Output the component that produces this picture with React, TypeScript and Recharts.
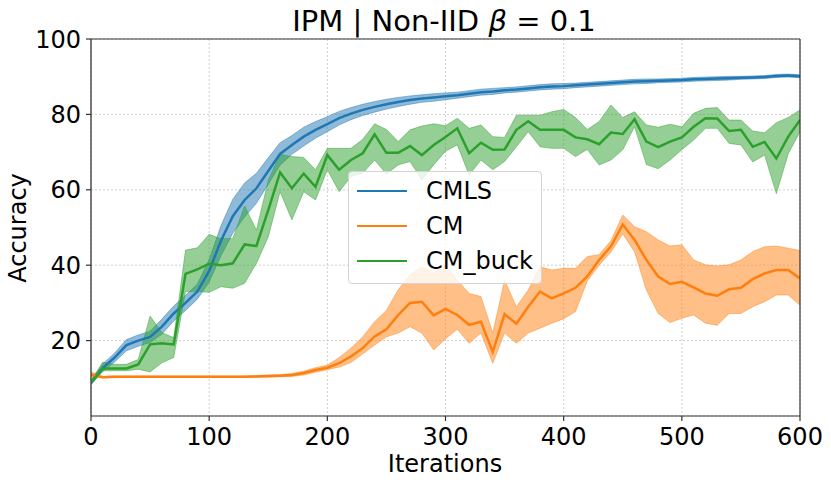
import React from 'react';
import { ComposedChart, Line, Area, XAxis, YAxis, CartesianGrid, ReferenceLine } from 'recharts';

const iterations = [0, 10, 20, 30, 40, 50, 60, 70, 80, 90, 100, 110, 120, 130, 140, 150, 160, 170, 180, 190, 200, 210, 220, 230, 240, 250, 260, 270, 280, 290, 300, 310, 320, 330, 340, 350, 360, 370, 380, 390, 400, 410, 420, 430, 440, 450, 460, 470, 480, 490, 500, 510, 520, 530, 540, 550, 560, 570, 580, 590, 600];

const cmlsMean = [8.8, 12.8, 15.5, 18.8, 20, 21, 23.7, 27.2, 30, 33, 38.5, 46.5, 53, 57.3, 60.4, 65, 69.5, 71.9, 74.1, 75.9, 77.4, 79, 80.2, 81.2, 82, 82.7, 83.3, 83.8, 84.2, 84.5, 84.8, 85.1, 85.5, 85.9, 86.1, 86.4, 86.6, 86.9, 87.2, 87.4, 87.5, 87.7, 87.9, 88.1, 88.3, 88.5, 88.7, 88.8, 88.9, 89, 89.1, 89.3, 89.4, 89.5, 89.6, 89.7, 89.8, 89.9, 90.2, 90.3, 90.1];
const cmlsLow = [8.3, 11.8, 14.3, 17.3, 18.5, 19.5, 21.7, 25.2, 28, 31, 35.5, 42.5, 48.5, 52.8, 56.4, 61.5, 66.5, 69.4, 71.6, 73.7, 75.4, 77.2, 78.6, 79.7, 80.6, 81.4, 82.1, 82.7, 83.2, 83.5, 83.9, 84.3, 84.7, 85.1, 85.3, 85.7, 85.9, 86.2, 86.5, 86.7, 86.8, 87.1, 87.3, 87.5, 87.7, 87.9, 88.1, 88.2, 88.4, 88.5, 88.6, 88.8, 88.9, 89, 89.1, 89.3, 89.4, 89.5, 89.8, 89.9, 89.7];
const cmlsHigh = [9.3, 13.8, 16.7, 20.3, 21.5, 22.5, 25.7, 29.2, 32, 35, 41.5, 50.5, 57.5, 61.8, 64.4, 68.5, 72.5, 74.4, 76.6, 78.1, 79.4, 80.8, 81.8, 82.7, 83.4, 84, 84.5, 84.9, 85.2, 85.5, 85.7, 85.9, 86.3, 86.7, 86.9, 87.1, 87.3, 87.6, 87.9, 88.1, 88.2, 88.3, 88.5, 88.7, 88.9, 89.1, 89.3, 89.4, 89.4, 89.5, 89.6, 89.8, 89.9, 90, 90.1, 90.1, 90.2, 90.3, 90.6, 90.7, 90.5];

const cmMean = [11, 10.3, 10.4, 10.4, 10.4, 10.4, 10.4, 10.4, 10.4, 10.4, 10.4, 10.4, 10.4, 10.4, 10.5, 10.6, 10.7, 10.9, 11.4, 12.2, 12.8, 14, 15.8, 18, 21.1, 23, 26.8, 30, 30.3, 26.7, 28.4, 26.8, 24.2, 25, 17, 27, 24.5, 29, 33, 31.2, 32.5, 34, 37, 41.4, 45, 50.8, 46.7, 41.4, 37, 35, 35.6, 34.1, 32.5, 31.9, 33.6, 34, 36.3, 37.8, 38.7, 38.7, 36.5];
const cmLow = [10.3, 10.1, 10.2, 10.2, 10.2, 10.2, 10.2, 10.2, 10.2, 10.2, 10.2, 10.2, 10.2, 10.2, 10.3, 10.3, 10.4, 10.5, 10.9, 11.6, 12.3, 13, 14.2, 16.5, 18.8, 21, 22, 23.7, 22, 17.5, 20.5, 23, 19.3, 22, 14, 22, 19.3, 22, 23.3, 24.6, 25.8, 27.7, 35.8, 40, 43.5, 48.3, 43.6, 33.4, 27.2, 24.8, 25.9, 26.8, 24.6, 24.1, 27.2, 27.2, 29, 30.3, 32.1, 32.1, 29.4];
const cmHigh = [11.7, 10.5, 10.6, 10.6, 10.6, 10.6, 10.6, 10.6, 10.6, 10.6, 10.6, 10.6, 10.6, 10.6, 10.7, 10.9, 11, 11.3, 11.9, 12.8, 13.5, 15.5, 18, 21, 25, 28, 33.5, 37.5, 39.5, 38, 40, 36, 32.5, 31.7, 22, 36, 29, 33.4, 39.6, 38.7, 39.2, 39.2, 42.3, 42.8, 46.5, 53.3, 50.2, 48.9, 46.7, 45.1, 45.4, 41.4, 40.1, 39.8, 40.1, 41.4, 43.6, 44.9, 45.1, 44.5, 43.9];

const buckMean = [8.8, 12.6, 12.6, 12.6, 13.7, 19, 19.3, 19, 37.7, 38.9, 40.4, 40, 40.5, 45.5, 45.1, 54.6, 64.6, 60.4, 64.3, 60.8, 69.2, 65.3, 67.9, 69.7, 74.7, 69.8, 69.8, 71.6, 69.2, 71.9, 74, 76.3, 69.7, 72.5, 70.6, 70.7, 75.9, 78.2, 75.9, 75.9, 75.9, 73.9, 73.4, 72.1, 75.2, 74.8, 78.7, 72.8, 71.3, 72.8, 73.9, 76.7, 79, 78.9, 75.6, 75.9, 71.4, 72.7, 68.3, 74.1, 78.5];
const buckLow = [8.5, 12, 12, 12, 12.4, 11.7, 14.1, 15.5, 33, 33, 32.8, 34.3, 33.9, 35.2, 40.5, 47.5, 59.5, 52, 59.5, 57.3, 65.3, 59.5, 63.5, 64.4, 67.9, 64.2, 66.6, 67.5, 62.6, 66.6, 70.2, 71.9, 63.9, 67.9, 65.3, 67.5, 71.4, 75.4, 71.4, 71, 71, 68.8, 70.7, 66.6, 67.9, 70.6, 76.7, 66.7, 65.6, 67.9, 70.6, 73.2, 76.3, 76.3, 72.3, 71.9, 67.4, 69.2, 59, 69.5, 75.4];
const buckHigh = [9.5, 14.3, 13.7, 13.7, 15, 26.5, 22.1, 20.8, 44, 44.6, 48.2, 47, 47.1, 55.7, 49.3, 62.5, 69.4, 68.8, 68.6, 65.3, 71, 71, 71, 73.4, 77.5, 76, 72.8, 75.9, 76.9, 77.5, 77, 79, 76.3, 77.2, 74.1, 73.9, 79.8, 79.8, 79.8, 80.7, 81.3, 79.2, 76, 78.1, 82.5, 79.2, 80.7, 77.2, 76.6, 77.4, 76.7, 80.3, 81.6, 81.8, 78.5, 78.5, 75.6, 75.1, 77.8, 79.2, 81.2];

const xTicks = [0, 100, 200, 300, 400, 500, 600];
const yTicks = [20, 40, 60, 80, 100];

const seriesNames = ['CMLS', 'CM', 'CM_buck'];
const seriesColors = ['#1f77b4', '#ff7f0e', '#2ca02c'];

const data = iterations.map((it, i) => ({
  it,
  cmls: cmlsMean[i],
  cmlsBand: [cmlsLow[i], cmlsHigh[i]],
  cm: cmMean[i],
  cmBand: [cmLow[i], cmHigh[i]],
  buck: buckMean[i],
  buckBand: [buckLow[i], buckHigh[i]],
}));

const FONT = '"DejaVu Sans", sans-serif';
const tickStyle = { fontSize: 24, fill: '#000', fontFamily: FONT };

export default function App() {
  const keys = [
    ['cmls', 'cmlsBand'],
    ['cm', 'cmBand'],
    ['buck', 'buckBand'],
  ];
  return (
    <div style={{ position: 'relative', width: 831, height: 485, fontFamily: FONT }}>
      <style>{'body{margin:0;}'}</style>
      <ComposedChart
        width={831}
        height={485}
        data={data}
        margin={{ top: 39, right: 31, bottom: 0, left: 0 }}
      >
        <CartesianGrid stroke="#c4c4c4" strokeDasharray="2 2" strokeWidth={0.8} />
        <XAxis
          dataKey="it"
          type="number"
          domain={[0, 600]}
          ticks={xTicks}
          height={69}
          tick={tickStyle}
          tickSize={5}
          tickMargin={7}
          axisLine={{ stroke: '#333', strokeWidth: 1.2 }}
          tickLine={{ stroke: '#333', strokeWidth: 1.2 }}
          allowDataOverflow
        />
        <YAxis
          type="number"
          domain={[0, 100]}
          ticks={yTicks}
          width={91}
          tick={tickStyle}
          tickSize={5}
          tickMargin={5}
          axisLine={{ stroke: '#444', strokeWidth: 1.4 }}
          tickLine={{ stroke: '#333', strokeWidth: 1.2 }}
          allowDataOverflow
        />
        {keys.map(([m, b], i) => (
          <Area
            key={b}
            type="linear"
            dataKey={b}
            fill={seriesColors[i]}
            fillOpacity={0.5}
            stroke={seriesColors[i]}
            strokeOpacity={0.45}
            strokeWidth={1}
            isAnimationActive={false}
            legendType="none"
            dot={false}
            activeDot={false}
          />
        ))}
        {keys.map(([m, b], i) => (
          <Line
            key={m}
            type="linear"
            dataKey={m}
            name={seriesNames[i]}
            stroke={seriesColors[i]}
            strokeWidth={2.5}
            dot={false}
            activeDot={false}
            isAnimationActive={false}
          />
        ))}
        <ReferenceLine y={100} stroke="#333" strokeWidth={1.2} />
        <ReferenceLine x={600} stroke="#333" strokeWidth={1.2} />
      </ComposedChart>

      <svg
        width={831}
        height={485}
        style={{ position: 'absolute', left: 0, top: 0, pointerEvents: 'none' }}
      >
        <text x={444} y={31} textAnchor="middle" fontSize={29} fontFamily={FONT} fill="#000">
          IPM | Non-IID <tspan fontStyle="italic">β</tspan> = 0.1
        </text>
        <text x={445} y={472} textAnchor="middle" fontSize={24} fontFamily={FONT} fill="#000">
          Iterations
        </text>
        <text
          x={26}
          y={228}
          textAnchor="middle"
          fontSize={24}
          fontFamily={FONT}
          fill="#000"
          transform="rotate(-90 26 228)"
        >
          Accuracy
        </text>
      </svg>

      <div
        style={{
          position: 'absolute',
          left: 348,
          top: 171,
          width: 194,
          height: 113,
          boxSizing: 'border-box',
          border: '1px solid #d4d4d4',
          borderRadius: 4,
          background: 'rgba(255,255,255,0.8)',
        }}
      >
        {seriesNames.map((name, i) => (
          <div
            key={name}
            style={{
              position: 'absolute',
              left: 0,
              top: 2 + i * 35,
              height: 34,
              width: '100%',
              display: 'flex',
              alignItems: 'center',
            }}
          >
            <div style={{ marginLeft: 8, width: 50, height: 2.7, background: seriesColors[i] }} />
            <span style={{ marginLeft: 19, fontSize: 24, color: '#000', lineHeight: '34px' }}>{name}</span>
          </div>
        ))}
      </div>
    </div>
  );
}
